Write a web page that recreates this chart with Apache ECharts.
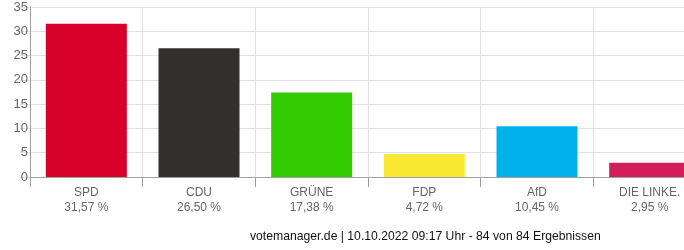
<!DOCTYPE html>
<html>
<head>
<meta charset="utf-8">
<script src="https://cdn.jsdelivr.net/npm/echarts@6/dist/echarts.min.js"></script>
<style>
html,body{margin:0;padding:0;overflow:hidden;background:#fff;width:684px;height:250px;}
#c{width:706px;height:250px;}
</style>
</head>
<body>
<div id="c"></div>
<script>
var categories = ['SPD', 'CDU', 'GRÜNE', 'FDP', 'AfD', 'DIE LINKE.'];
var values = [31.57, 26.50, 17.38, 4.72, 10.45, 2.95];
var colors = ['#d7002b', '#32302e', '#33cc00', '#f8e832', '#00b1ec', '#d21e5a'];
var footer = 'votemanager.de | 10.10.2022 09:17 Uhr - 84 von 84 Ergebnissen';

function fmt(v){ return v.toFixed(2).replace('.', ',') + ' %'; }

var chart = echarts.init(document.getElementById('c'), null, {renderer: 'canvas'});
chart.setOption({
  animation: false,
  grid: {left: 30, right: 0, top: 7, bottom: 73},
  xAxis: {
    type: 'category',
    data: categories,
    axisLine: {lineStyle: {color: '#a0a0a0', width: 1}},
    axisTick: {show: true, length: 10, lineStyle: {color: '#a0a0a0'}},
    splitLine: {show: true, lineStyle: {color: '#e2e2e2'}},
    axisLabel: {
      color: '#666',
      fontFamily: 'Liberation Sans, Arial, sans-serif',
      fontSize: 12,
      lineHeight: 15,
      margin: 8,
      interval: 0,
      formatter: function(v, i){ return v + '\n' + fmt(values[i]); }
    }
  },
  yAxis: {
    type: 'value',
    min: 0, max: 35, interval: 5,
    axisLine: {show: true, lineStyle: {color: '#a0a0a0'}},
    axisTick: {show: true, length: 10, lineStyle: {color: '#e2e2e2'}},
    splitLine: {lineStyle: {color: '#e2e2e2'}},
    axisLabel: {color: '#666', fontSize: 13, margin: 2, fontFamily: 'Liberation Sans, Arial, sans-serif'}
  },
  series: [{
    type: 'bar',
    data: values.map(function(v, i){ return {value: v, itemStyle: {color: colors[i]}}; }),
    barWidth: 81
  }],
  graphic: [{
    type: 'text',
    left: 250, top: 231,
    style: {text: footer, fill: '#111', font: '12.2px "Liberation Sans", Arial, sans-serif'}
  }]
});
</script>
</body>
</html>
